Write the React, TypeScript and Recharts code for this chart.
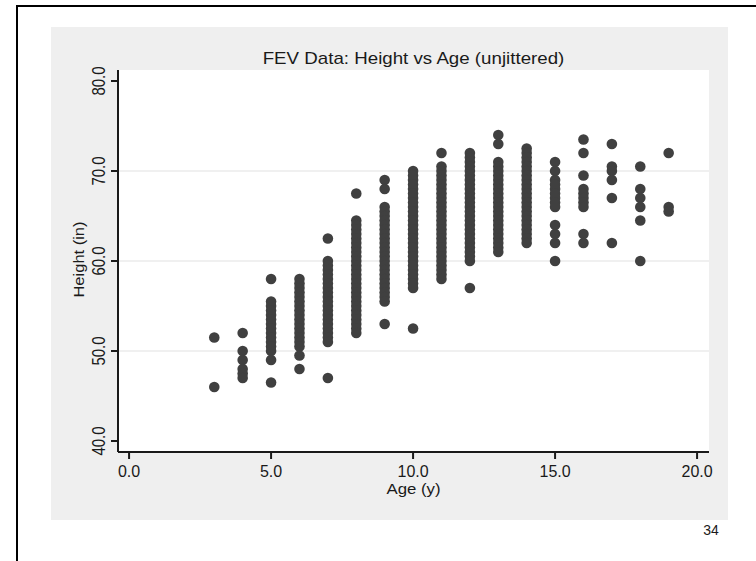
import React from "react";
import { ScatterChart, Scatter, XAxis, YAxis, CartesianGrid, Label } from "recharts";

// Ages (years) of each column of points
const ages = [3, 4, 5, 6, 7, 8, 9, 10, 11, 12, 13, 14, 15, 16, 17, 18, 19];

// Heights (inches), one list per age
const h3 = [51.5, 46];
const h4 = [52, 50, 49, 48, 47.5, 47];
const h5 = [58, 55.5, 55, 54.5, 54, 53.5, 53, 52.5, 52, 51.5, 51, 50.5, 50, 49, 46.5];
const h6 = [58, 57.5, 57, 56.5, 56, 55.5, 55, 54.5, 54, 53.5, 53, 52.5, 52, 51.5, 51, 50.5, 49.5, 48];
const h7 = [62.5, 60, 59.5, 59, 58.5, 58, 57.5, 57, 56.5, 56, 55.5, 55, 54.5, 54, 53.5, 53, 52.5, 52, 51.5, 51, 47];
const h8 = [67.5, 64.5, 64, 63.5, 63, 62.5, 62, 61.5, 61, 60.5, 60, 59.5, 59, 58.5, 58, 57.5, 57, 56.5, 56, 55.5, 55, 54.5, 54, 53.5, 53, 52.5, 52];
const h9 = [69, 68, 66, 65.5, 65, 64.5, 64, 63.5, 63, 62.5, 62, 61.5, 61, 60.5, 60, 59.5, 59, 58.5, 58, 57.5, 57, 56.5, 56, 55.5, 53];
const h10 = [70, 69.5, 69, 68.5, 68, 67.5, 67, 66.5, 66, 65.5, 65, 64.5, 64, 63.5, 63, 62.5, 62, 61.5, 61, 60.5, 60, 59.5, 59, 58.5, 58, 57.5, 57, 52.5];
const h11 = [72, 70.5, 70, 69.5, 69, 68.5, 68, 67.5, 67, 66.5, 66, 65.5, 65, 64.5, 64, 63.5, 63, 62.5, 62, 61.5, 61, 60.5, 60, 59.5, 59, 58.5, 58];
const h12 = [72, 71.5, 71, 70.5, 70, 69.5, 69, 68.5, 68, 67.5, 67, 66.5, 66, 65.5, 65, 64.5, 64, 63.5, 63, 62.5, 62, 61.5, 61, 60.5, 60, 57];
const h13 = [74, 73, 71, 70.5, 70, 69.5, 69, 68.5, 68, 67.5, 67, 66.5, 66, 65.5, 65, 64.5, 64, 63.5, 63, 62.5, 62, 61.5, 61];
const h14 = [72.5, 72, 71.5, 71, 70.5, 70, 69.5, 69, 68.5, 68, 67.5, 67, 66.5, 66, 65.5, 65, 64.5, 64, 63.5, 63, 62.5, 62];
const h15 = [71, 70, 69, 68.5, 68, 67.5, 67, 66.5, 66, 64, 63, 62, 60];
const h16 = [73.5, 72, 69.5, 68, 67.5, 67, 66.5, 66, 63, 62];
const h17 = [73, 70.5, 70, 69, 67, 62];
const h18 = [70.5, 68, 67, 66, 64.5, 60];
const h19 = [72, 66, 65.5];

const heightsByAge = [h3, h4, h5, h6, h7, h8, h9, h10, h11, h12, h13, h14, h15, h16, h17, h18, h19];

// Axis ticks
const xTicks = [0, 5, 10, 15, 20];
const yTicks = [40, 50, 60, 70, 80];
const gridValues = [50, 60, 70];

const titleText = "FEV Data: Height vs Age (unjittered)";
const xLabelText = "Age (y)";
const yLabelText = "Height (in)";
const pageNumber = "34";

const data = ages.flatMap((a, i) => heightsByAge[i].map((h) => ({ age: a, height: h })));

const FONT = "'Liberation Sans', Arial, Helvetica, sans-serif";
const INK = "#1a1a1a";
const DOT = "#404040";

const Dot = (props: any) => {
  const { cx, cy } = props;
  if (cx == null || cy == null) return null;
  return <circle cx={cx} cy={cy} r={5.3} fill={DOT} />;
};

const XTick = (props: any) => {
  const { x, payload } = props;
  return (
    <text x={x} y={477} textAnchor="middle" fontFamily={FONT} fontSize={16} fill={INK}>
      {Number(payload.value).toFixed(1)}
    </text>
  );
};

const YTick = (props: any) => {
  const { y, payload } = props;
  return (
    <text
      transform={`translate(104.5, ${y}) scale(1.25, 1) rotate(-90)`}
      x={0}
      y={0}
      textAnchor="middle"
      fontFamily={FONT}
      fontSize={15}
      fill={INK}
    >
      {Number(payload.value).toFixed(1)}
    </text>
  );
};

export default function App() {
  return (
    <div style={{ position: "absolute", left: 0, top: 0, width: 756, height: 561, background: "#fff", overflow: "hidden" }}>
      <div
        style={{
          position: "absolute",
          left: 16,
          top: 5,
          width: 800,
          height: 600,
          border: "2px solid #000",
          boxSizing: "border-box",
        }}
      />
      <div style={{ position: "absolute", left: 51, top: 27, width: 677, height: 493, background: "#efefef" }} />
      <div style={{ position: "absolute", left: 0, top: 0 }}>
        <ScatterChart width={756} height={561} margin={{ top: 70, right: 47, bottom: 0, left: 0 }}>
          <CartesianGrid
            vertical={false}
            horizontalValues={gridValues}
            fill="#ffffff"
            stroke="#ebebeb"
            strokeWidth={1.5}
          />
          <XAxis
            type="number"
            dataKey="age"
            domain={[-0.39, 20.42]}
            ticks={xTicks}
            allowDataOverflow
            height={109}
            axisLine={{ stroke: INK, strokeWidth: 2 }}
            tickLine={{ stroke: INK, strokeWidth: 2 }}
            tickSize={7}
            tick={<XTick />}
            interval={0}
          >
            <Label
              content={() => (
                <text
                  transform="translate(413.5, 493.5) scale(1.12, 1)"
                  x={0}
                  y={0}
                  textAnchor="middle"
                  fontFamily={FONT}
                  fontSize={15}
                  fill={INK}
                >
                  {xLabelText}
                </text>
              )}
            />
          </XAxis>
          <YAxis
            type="number"
            dataKey="height"
            domain={[38.78, 81.22]}
            ticks={yTicks}
            allowDataOverflow
            width={118}
            axisLine={{ stroke: INK, strokeWidth: 2 }}
            tickLine={{ stroke: INK, strokeWidth: 2 }}
            tickSize={7}
            tick={<YTick />}
            interval={0}
          >
            <Label
              content={() => (
                <text
                  transform="translate(83.5, 259.5) scale(0.9, 1) rotate(-90)"
                  x={0}
                  y={0}
                  textAnchor="middle"
                  fontFamily={FONT}
                  fontSize={16.5}
                  fill={INK}
                >
                  {yLabelText}
                </text>
              )}
            />
          </YAxis>
          <Scatter data={data} shape={<Dot />} isAnimationActive={false} />
        </ScatterChart>
      </div>
      <svg width={756} height={561} style={{ position: "absolute", left: 0, top: 0, pointerEvents: "none" }}>
        <text
          transform="translate(413.5, 64.3) scale(1.17, 1)"
          x={0}
          y={0}
          textAnchor="middle"
          fontFamily={FONT}
          fontSize={16}
          fill={INK}
        >
          {titleText}
        </text>
        <text x={711} y={535} textAnchor="middle" fontFamily={FONT} fontSize={14} fill={INK}>
          {pageNumber}
        </text>
      </svg>
    </div>
  );
}
